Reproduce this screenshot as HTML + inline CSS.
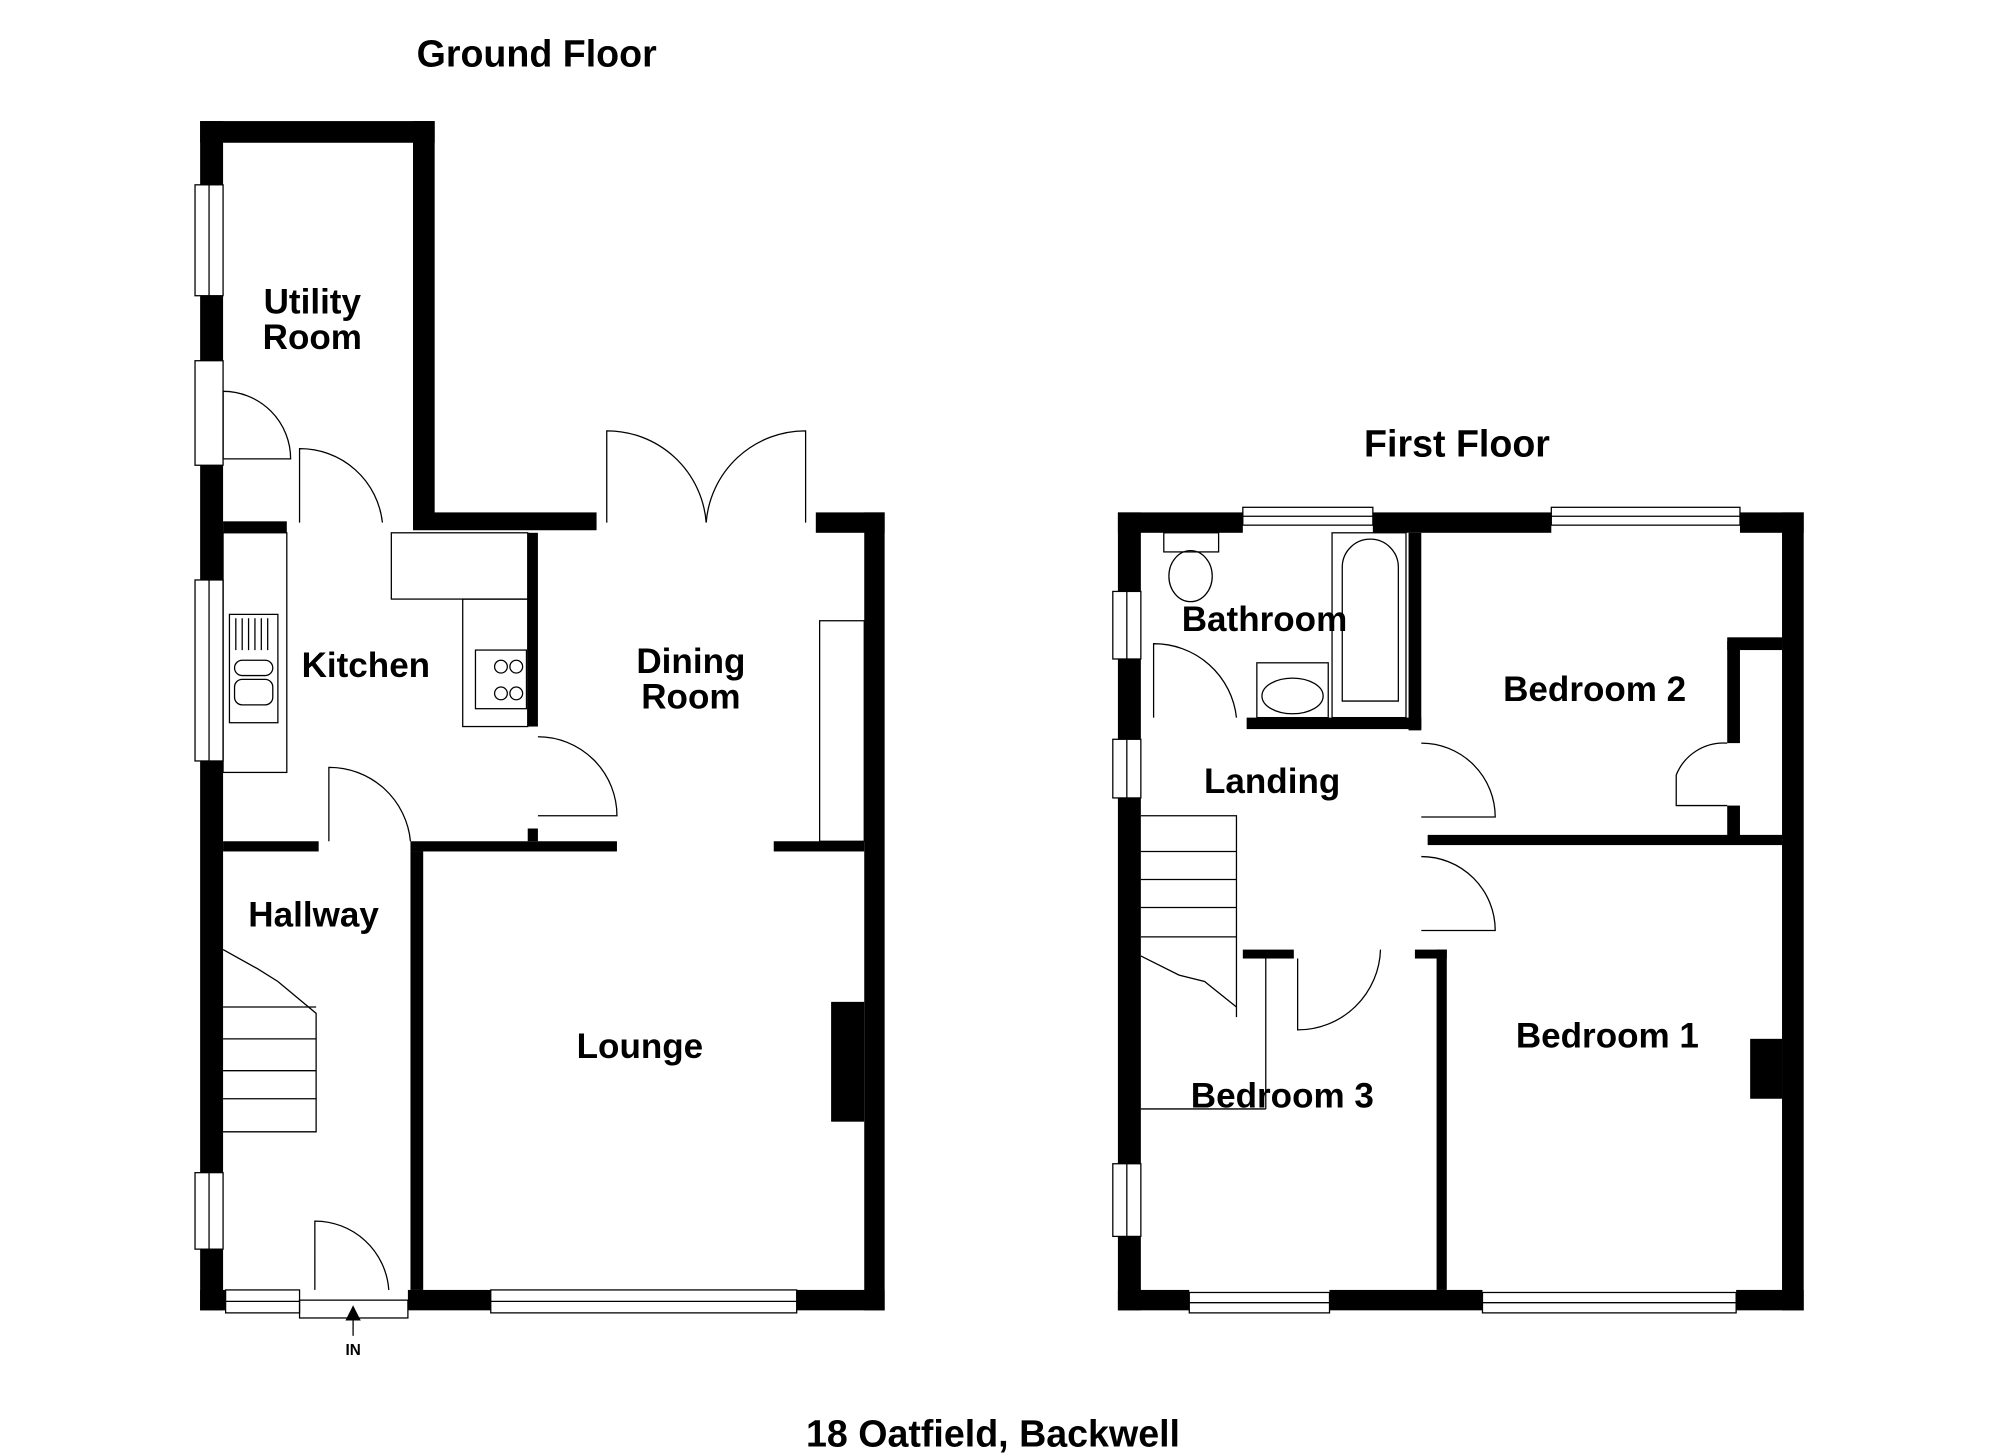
<!DOCTYPE html>
<html><head><meta charset="utf-8"><style>
html,body{margin:0;padding:0;background:#fff;}
svg{display:block;}
text{font-family:"Liberation Sans",Arial,sans-serif;font-weight:bold;fill:#000;}
</style></head><body>
<svg width="2000" height="1455" viewBox="0 0 1569 1141.5" preserveAspectRatio="none" xmlns="http://www.w3.org/2000/svg">
<rect width="1569" height="1142" fill="#fff"/>
<g fill="#000">
<rect x="157" y="95" width="18" height="50"/>
<rect x="157" y="232" width="18" height="51"/>
<rect x="157" y="365" width="18" height="90"/>
<rect x="157" y="597" width="18" height="323"/>
<rect x="157" y="980" width="18" height="48"/>
<rect x="157" y="95" width="184" height="17"/>
<rect x="324" y="95" width="17" height="318"/>
<rect x="324" y="402" width="144" height="14"/>
<rect x="640" y="402" width="54" height="16"/>
<rect x="678" y="402" width="16" height="626"/>
<rect x="157" y="1012" width="20" height="16"/>
<rect x="320" y="1012" width="65" height="16"/>
<rect x="625" y="1012" width="69" height="16"/>
<rect x="652" y="786" width="26" height="94"/>
<rect x="175" y="409" width="50" height="9"/>
<rect x="414" y="418" width="8" height="152"/>
<rect x="414" y="650" width="8" height="10"/>
<rect x="175" y="660" width="75" height="8"/>
<rect x="322" y="660" width="162" height="8"/>
<rect x="607" y="660" width="71" height="8"/>
<rect x="322" y="668" width="10" height="344"/>
<rect x="877" y="402" width="18" height="62"/>
<rect x="877" y="517" width="18" height="63"/>
<rect x="877" y="626" width="18" height="287"/>
<rect x="877" y="970" width="18" height="58"/>
<rect x="877" y="402" width="98" height="16"/>
<rect x="1077" y="402" width="140" height="16"/>
<rect x="1365" y="402" width="50" height="16"/>
<rect x="1398" y="402" width="17" height="626"/>
<rect x="877" y="1012" width="56" height="16"/>
<rect x="1043" y="1012" width="120" height="16"/>
<rect x="1362" y="1012" width="53" height="16"/>
<rect x="1105" y="418" width="10" height="155"/>
<rect x="978" y="563" width="137" height="9"/>
<rect x="1120" y="655" width="278" height="8"/>
<rect x="1355" y="503" width="10" height="80"/>
<rect x="1355" y="632" width="10" height="28"/>
<rect x="1355" y="500" width="43" height="10"/>
<rect x="1127" y="745" width="8" height="267"/>
<rect x="975" y="745" width="40" height="7"/>
<rect x="1110" y="745" width="25" height="7"/>
<rect x="1373" y="815" width="25" height="47"/>
</g>
<g fill="none" stroke="#000" stroke-width="1">
<rect x="153" y="145" width="22" height="87"/><line x1="164" y1="145" x2="164" y2="232"/>
<rect x="153" y="283" width="22" height="82"/>
<rect x="153" y="455" width="22" height="142"/><line x1="164" y1="455" x2="164" y2="597"/>
<rect x="153" y="920" width="22" height="60"/><line x1="164" y1="920" x2="164" y2="980"/>
<rect x="177" y="1012" width="58" height="18"/><line x1="177" y1="1021" x2="235" y2="1021"/>
<rect x="385" y="1012" width="240" height="18"/><line x1="385" y1="1021" x2="625" y2="1021"/>
<rect x="235" y="1020" width="85" height="14"/>
<path d="M175 360 H228 A53 53 0 0 0 175 307"/><line x1="175" y1="307" x2="175" y2="360"/>
<path d="M235 410 V352 A65 65 0 0 1 300 410"/>
<path d="M258 660 V602 A64 64 0 0 1 322 660"/>
<path d="M247 1012 V958 A58 58 0 0 1 305 1012"/>
<path d="M422 578 A62 62 0 0 1 484 640 H422"/>
<path d="M476 410 V338 A78 78 0 0 1 554 410"/>
<path d="M632 410 V338 A78 78 0 0 0 554 410"/>
<rect x="175" y="418" width="50" height="188"/>
<rect x="307" y="418" width="107" height="52"/>
<rect x="363" y="470" width="51" height="100"/>
<rect x="373" y="510" width="40" height="46"/>
<circle cx="393" cy="523" r="5"/><circle cx="405" cy="523" r="5"/><circle cx="393" cy="544" r="5"/><circle cx="405" cy="544" r="5"/>
<rect x="180" y="482" width="38" height="85"/>
<rect x="184" y="518" width="30" height="12" rx="6"/><rect x="184" y="533" width="30" height="20" rx="6"/>
<path d="M185 485V510M190 485V510M195 485V510M200 485V510M205 485V510M210 485V510"/>
<rect x="643" y="487" width="35" height="173"/>
<path d="M175 745 L202 760 L218 770 L248 795 V888 H175"/>
<path d="M175 790 H248 M175 815 H248 M175 840 H248 M175 862 H248 M175 888 H248"/>
<line x1="277" y1="1034" x2="277" y2="1048"/>
<rect x="975" y="398" width="102" height="14"/><line x1="975" y1="405" x2="1077" y2="405"/>
<rect x="1217" y="398" width="148" height="14"/><line x1="1217" y1="405" x2="1365" y2="405"/>
<rect x="933" y="1014" width="110" height="16"/><line x1="933" y1="1022" x2="1043" y2="1022"/>
<rect x="1163" y="1014" width="199" height="16"/><line x1="1163" y1="1022" x2="1362" y2="1022"/>
<rect x="873" y="464" width="22" height="53"/><line x1="884" y1="464" x2="884" y2="517"/>
<rect x="873" y="580" width="22" height="46"/><line x1="884" y1="580" x2="884" y2="626"/>
<rect x="873" y="913" width="22" height="57"/><line x1="884" y1="913" x2="884" y2="970"/>
<rect x="913" y="418" width="43" height="15"/>
<ellipse cx="934" cy="452" rx="17" ry="20"/>
<rect x="1045" y="418" width="58" height="145"/>
<path d="M1053 550 V445 A22 22 0 0 1 1097 445 V550 Z"/>
<rect x="986" y="520" width="56" height="43"/>
<ellipse cx="1014" cy="546" rx="24" ry="14"/>
<path d="M905 563 V505 A65 65 0 0 1 970 563"/>
<path d="M1115 583 A58 58 0 0 1 1173 641 H1115"/>
<path d="M1115 672 A58 58 0 0 1 1173 730 H1115"/>
<path d="M1018 752 V808 A65 65 0 0 0 1083 745"/>
<path d="M1355 583 A40 40 0 0 0 1315 608 V632 H1355"/>
<path d="M895 640 H970 V798 M895 668 H970 M895 690 H970 M895 712 H970 M895 735 H970"/>
<path d="M895 750 L925 765 L945 770 L970 790"/>
<line x1="993" y1="752" x2="993" y2="870"/><line x1="895" y1="870" x2="993" y2="870"/>
</g>
<polygon points="277,1024 271,1036 283,1036" fill="#000"/>
<text x="421" y="52" font-size="29.5" text-anchor="middle">Ground Floor</text>
<text x="1143" y="358" font-size="29.5" text-anchor="middle">First Floor</text>
<text x="779" y="1135" font-size="29.5" text-anchor="middle">18 Oatfield, Backwell</text>
<text x="277" y="1063" font-size="12" text-anchor="middle">IN</text>
<g font-size="27.5" text-anchor="middle">
<text x="245" y="246">Utility</text><text x="245" y="274">Room</text>
<text x="287" y="531">Kitchen</text>
<text x="542" y="528">Dining</text><text x="542" y="556">Room</text>
<text x="246" y="727">Hallway</text>
<text x="502" y="830">Lounge</text>
<text x="992" y="495">Bathroom</text>
<text x="1251" y="550">Bedroom 2</text>
<text x="998" y="622">Landing</text>
<text x="1261" y="822">Bedroom 1</text>
<text x="1006" y="869">Bedroom 3</text>
</g>
</svg>
</body></html>
